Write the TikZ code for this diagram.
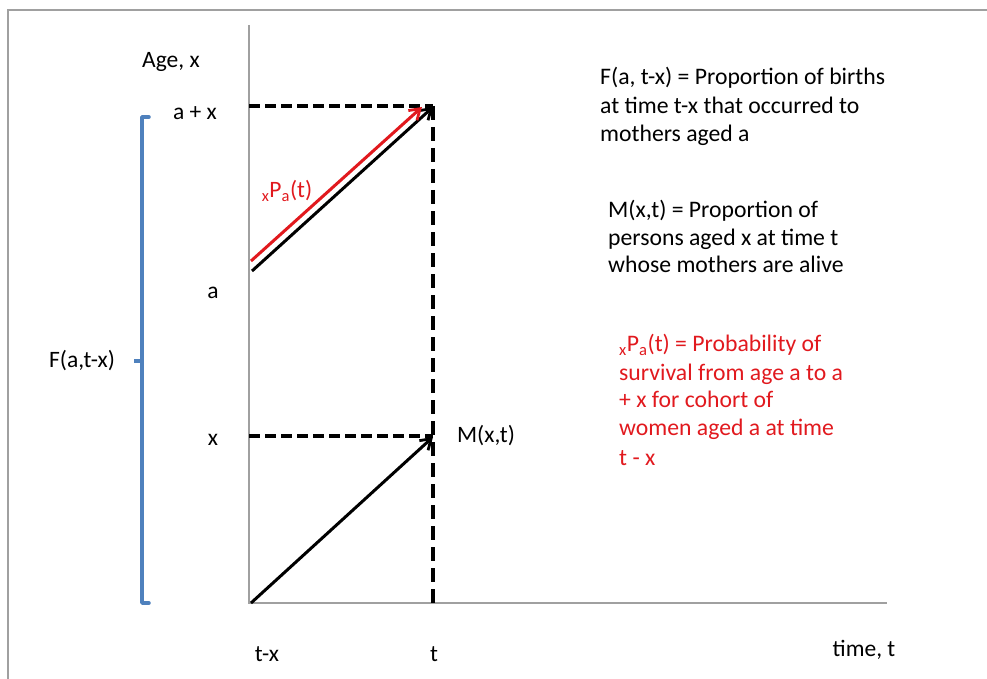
\documentclass[tikz,border=0pt]{standalone}
\usepackage{fontspec}
\setmainfont{Carlito}
\usetikzlibrary{arrows.meta}
\definecolor{axisgray}{RGB}{160,160,160}
\definecolor{bracketblue}{RGB}{79,129,189}
\definecolor{txtred}{RGB}{225,25,30}
\begin{document}
\begin{tikzpicture}[x=1pt,y=-1pt,
  lbl/.style={font=\fontsize{23.5}{28}\selectfont, inner sep=0pt},
  desc/.style={font=\fontsize{23.7}{28}\selectfont, anchor=base west, inner sep=0pt},
  axisline/.style={draw=axisgray, line width=1.6pt},
  dashline/.style={draw=black, line width=3.4pt, dash pattern=on 11pt off 5pt},
  vdashline/.style={draw=black, line width=3.4pt, dash pattern=on 14pt off 7pt},
  arrowline/.style={line width=3pt, -{Straight Barb[length=10pt,width=13pt,line width=2.8pt]}},
  framel/.style={draw=axisgray, line width=1.5pt}]
\useasboundingbox (0,0) rectangle (987,679);
% frame
\coordinate (fTL) at (8,10);
\coordinate (fTR) at (987,10);
\coordinate (fBL) at (8,679);
\draw[framel] (fTR) -- (fTL) -- (fBL);
% axes
\coordinate (O) at (249,603);
\coordinate (Ytop) at (249,25);
\coordinate (Xend) at (887,603);
\draw[axisline] (Ytop) -- (O) -- (Xend);
% key coordinates
\coordinate (ax) at (249,106);
\coordinate (tax) at (433,106);
\coordinate (xx) at (249,436);
\coordinate (tx) at (433,436);
\coordinate (tb) at (433,607);
\draw[dashline] (ax) -- (tax);
\draw[dashline] (xx) -- (tx);
\draw[vdashline] (tax) -- (tb);
% arrows
\coordinate (bs) at (252,271);
\coordinate (be) at (433,107);
\draw[arrowline] (bs) -- (be);
\coordinate (rs) at (251,261);
\coordinate (re) at (422,107);
\draw[arrowline, draw=txtred] (rs) -- (re);
\coordinate (ls) at (251,603);
\coordinate (le) at (433,437);
\draw[arrowline] (ls) -- (le);
% bracket
\coordinate (brT) at (149,117);
\coordinate (brT2) at (142,117);
\coordinate (brB) at (142,603);
\coordinate (brB2) at (149,603);
\coordinate (brM) at (142,361);
\coordinate (brMl) at (134,361);
\draw[draw=bracketblue, line width=3.5pt, line join=round, line cap=round] (brT) -- (brT2) -- (brB) -- (brB2);
\draw[draw=bracketblue, line width=3.5pt] (brM) -- (brMl);
% labels
\node[lbl] (agex) at (171,62) {Age, x};
\node[lbl] (lax) at (195,113) {a + x};
\node[lbl] (la) at (213,293) {a};
\node[lbl] (lx) at (213,440) {x};
\node[lbl] (lF) at (82,361) {F(a,t-x)};
\node[lbl] (lM) at (486,436) {M(x,t)};
\node[lbl] (ltx) at (267,654) {t-x};
\node[lbl] (lt) at (434,654) {t};
\node[lbl] (ltime) at (864,650) {time, t};
\node[lbl, text=txtred] (lP) at (287,191) {\textsubscript{x}P\textsubscript{a}(t)};
% description blocks
\node[desc] (f1) at (600,85) {F(a, t-x) = Proportion of births};
\node[desc] (f2) at (600,113.3) {at time t-x that occurred to};
\node[desc] (f3) at (600,141.7) {mothers aged a};
\node[desc] (m1) at (608,217.7) {M(x,t) = Proportion of};
\node[desc] (m2) at (608,245) {persons aged x at time t};
\node[desc] (m3) at (608,272.7) {whose mothers are alive};
\node[desc, text=txtred] (p1) at (619,351.7) {\textsubscript{x}P\textsubscript{a}(t) = Probability of};
\node[desc, text=txtred] (p2) at (619,380) {survival from age a to a};
\node[desc, text=txtred] (p3) at (619,407) {+ x for cohort of};
\node[desc, text=txtred] (p4) at (619,435) {women aged a at time};
\node[desc, text=txtred] (p5) at (619,465) {t - x};
\end{tikzpicture}
\end{document}
